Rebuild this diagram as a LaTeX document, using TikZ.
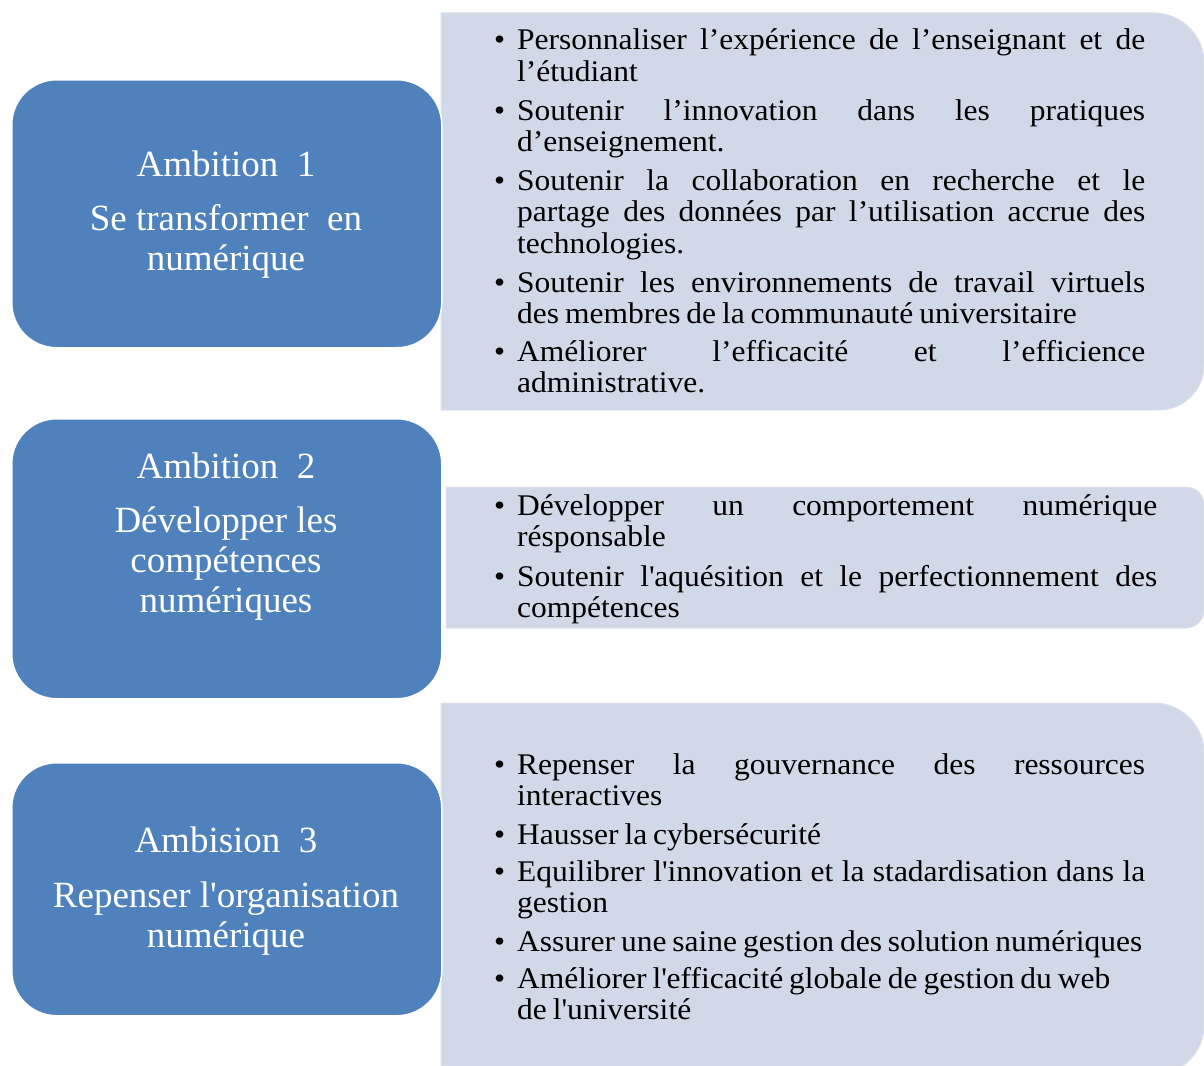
\documentclass[tikz,border=0pt]{standalone}
\usepackage{fontspec}
\setmainfont{Liberation Serif}[FakeStretch=1.05,WordSpace=0.75]
\newfontfamily\ambfont{Liberation Serif}
\definecolor{ambblue}{HTML}{4F81BD}
\definecolor{panelgrey}{HTML}{D1D9E8}
\definecolor{paneledge}{HTML}{DCE2EE}
\newcommand{\apo}{\textquotesingle}
\tikzset{
  panel/.style={fill=panelgrey, draw=paneledge, line width=1pt},
  ambbox/.style={fill=ambblue, draw=white, line width=1.5pt, rounded corners=45pt},
  ambtext/.style={text=white, inner sep=0pt, anchor=base,
    font=\ambfont\fontsize{37}{40}\selectfont},
  itm/.style={inner sep=0pt, anchor=base west, text=black,
    font=\fontsize{30}{31.5}\selectfont},
}
\begin{document}
\begin{tikzpicture}[x=1pt,y=-1pt]
\useasboundingbox (0,0) rectangle (1204,1065);
\clip (0,0) rectangle (1204,1065);
\fill[white] (0,0) rectangle (1204,1065);

% grey panels (right corners rounded)
\draw[panel] (441,13) -- (1154,13) arc[start angle=-90,end angle=0,radius=50]
  -- (1204,365) arc[start angle=0,end angle=90,radius=45] -- (441,410) -- cycle;
\draw[panel] (446,487) -- (1186,487) arc[start angle=-90,end angle=0,radius=18]
  -- (1204,610) arc[start angle=0,end angle=90,radius=18] -- (446,628) -- cycle;
\draw[panel] (441,703) -- (1154,703) arc[start angle=-90,end angle=0,radius=50]
  -- (1204,1025) arc[start angle=0,end angle=90,radius=50] -- (441,1075) -- cycle;

% blue ambition boxes
\node[ambbox, anchor=north west, minimum width=430pt, minimum height=268pt] (b1) at (11,79) {};
\node[ambbox, anchor=north west, minimum width=430pt, minimum height=280pt] (b2) at (11,418) {};
\node[ambbox, anchor=north west, minimum width=430pt, minimum height=253pt] (b3) at (11,762) {};

\node[ambtext] (t1) at (226,176) {\parbox[t]{420pt}{\centering
  Ambition\hspace{0.25em} 1\\[14.5pt]Se transformer\hspace{0.25em} en\\numérique}};
\node[ambtext] (t2) at (226,478) {\parbox[t]{420pt}{\centering
  Ambition\hspace{0.25em} 2\\[14pt]Développer les\\compétences\\numériques}};
\node[ambtext] (t3) at (226,852) {\parbox[t]{420pt}{\centering
  Ambision\hspace{0.25em} 3\\[15pt]Repenser l\apo organisation\\numérique}};

% panel 1 items
\node[itm] (p1a) at (494,50) {\makebox[23pt][l]{\textbullet}\parbox[t]{628pt}{%
  Personnaliser l’expérience de l’enseignant et de\linebreak l’étudiant}};
\node[itm] (p1b) at (494,120) {\makebox[23pt][l]{\textbullet}\parbox[t]{628pt}{%
  Soutenir l’innovation dans les pratiques\linebreak d’enseignement.}};
\node[itm] (p1c) at (494,190) {\makebox[23pt][l]{\textbullet}\parbox[t]{628pt}{%
  Soutenir la collaboration en recherche et le\linebreak partage des données par l’utilisation accrue des\linebreak technologies.}};
\node[itm] (p1d) at (494,292) {\makebox[23pt][l]{\textbullet}\parbox[t]{628pt}{%
  Soutenir les environnements de travail virtuels\linebreak des membres de la communauté universitaire}};
\node[itm] (p1e) at (494,361) {\makebox[23pt][l]{\textbullet}\parbox[t]{628pt}{%
  Améliorer l’efficacité et l’efficience\linebreak administrative.}};

% panel 2 items
\node[itm] (p2a) at (494,515) {\makebox[23pt][l]{\textbullet}\parbox[t]{640pt}{%
  Développer un comportement numérique\linebreak résponsable}};
\node[itm] (p2b) at (494,586) {\makebox[23pt][l]{\textbullet}\parbox[t]{640pt}{%
  Soutenir l\apo aquésition et le perfectionnement des\linebreak compétences}};

% panel 3 items
\node[itm] (p3a) at (494,774) {\makebox[23pt][l]{\textbullet}\parbox[t]{628pt}{%
  Repenser la gouvernance des ressources\linebreak interactives}};
\node[itm] (p3b) at (494,844) {\makebox[23pt][l]{\textbullet}\parbox[t]{628pt}{%
  Hausser la cybersécurité}};
\node[itm] (p3c) at (494,881) {\makebox[23pt][l]{\textbullet}\parbox[t]{628pt}{%
  Equilibrer l\apo innovation et la stadardisation dans la\linebreak gestion}};
\node[itm] (p3d) at (494,951) {\makebox[23pt][l]{\textbullet}\parbox[t]{628pt}{%
  Assurer une saine gestion des solution numériques}};
\node[itm] (p3e) at (494,988) {\makebox[23pt][l]{\textbullet}\parbox[t]{628pt}{%
  Améliorer l\apo efficacité globale de gestion du web\newline de l\apo université}};
\end{tikzpicture}
\end{document}
